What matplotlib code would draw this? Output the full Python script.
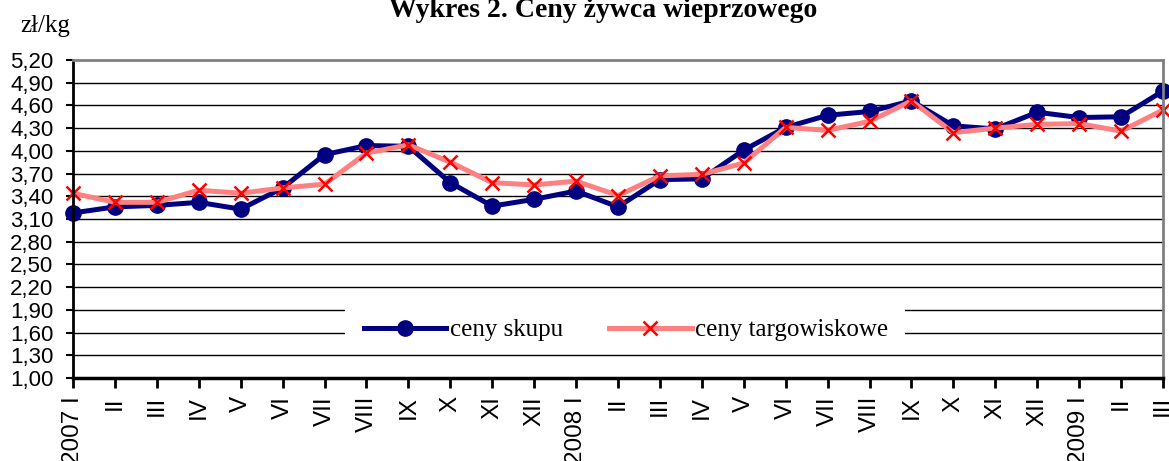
import numpy as np
import matplotlib
matplotlib.use('Agg')
from matplotlib import pyplot as plt
from matplotlib.patches import Rectangle

months = ['2007 I', 'II', 'III', 'IV', 'V', 'VI', 'VII', 'VIII', 'IX', 'X', 'XI', 'XII',
          '2008 I', 'II', 'III', 'IV', 'V', 'VI', 'VII', 'VIII', 'IX', 'X', 'XI', 'XII',
          '2009 I', 'II', 'III']
ceny_skupu = [3.18, 3.26, 3.28, 3.32, 3.23, 3.51, 3.95, 4.07, 4.06, 3.58, 3.27, 3.36,
              3.47, 3.26, 3.62, 3.63, 4.01, 4.31, 4.47, 4.52, 4.66, 4.33, 4.29, 4.51,
              4.44, 4.45, 4.79]
ceny_targ = [3.44, 3.32, 3.32, 3.48, 3.44, 3.51, 3.56, 3.97, 4.08, 3.85, 3.58, 3.55,
             3.60, 3.41, 3.67, 3.69, 3.84, 4.31, 4.27, 4.39, 4.66, 4.24, 4.30, 4.35,
             4.36, 4.26, 4.54]
yticks = np.arange(1.0, 5.21, 0.3)

fig = plt.figure(figsize=(11.69, 4.61), dpi=100)
ax = fig.add_axes([73/1169, 1 - 378/461, (1163 - 73)/1169, (378 - 60)/461])

x = np.arange(len(months))
ax.plot(x, ceny_skupu, color='#000080', lw=3.6, marker='o', ms=11,
        label='ceny skupu', zorder=3)
ax.plot(x, ceny_targ, color='#FF8080', lw=3.6, marker='x', ms=10, mec='#FF0000',
        mew=1.8, label='ceny targowiskowe', zorder=4)

ax.set_xlim(0, len(months) - 1)
ax.set_ylim(1.0, 5.2)
ax.set_yticks(yticks)
ax.set_yticklabels([('%.2f' % v).replace('.', ',') for v in yticks],
                   fontfamily='Liberation Sans', fontsize=16)
ax.set_xticks(x)
ax.set_xticklabels(months, rotation=90, fontfamily='Liberation Sans', fontsize=17.5)
ax.tick_params(axis='y', direction='out', length=5, width=1.5, pad=9)
ax.tick_params(axis='x', direction='out', length=7, width=2, pad=6)

for v in yticks[1:-1]:
    ax.axhline(v, color='black', lw=1, zorder=1)
ax.spines['top'].set_color('#808080')
ax.spines['top'].set_linewidth(2)
ax.spines['right'].set_color('#808080')
ax.spines['right'].set_linewidth(2)
ax.spines['left'].set_linewidth(2)
ax.spines['bottom'].set_linewidth(2.5)
for s in ax.spines.values():
    s.set_zorder(5)

# white legend area covering the gridlines behind it
ax.add_patch(Rectangle(((345 - 73)/1090, (378 - 346)/318), 560/1090, 48/318,
                       transform=ax.transAxes, facecolor='white', edgecolor='none',
                       zorder=2))
leg = ax.legend(loc='center', bbox_to_anchor=((626 - 73)/1090, (378 - 330)/318),
                ncol=2, frameon=False, handlelength=3.3, columnspacing=1.85,
                handletextpad=0.15, borderpad=0.3,
                prop={'family': 'Liberation Serif', 'size': 18})
leg.set_zorder(6)
for line in ax.lines:
    line.set_clip_on(False)

fig.text(603/1169, 1 - 17/461, 'Wykres 2. Ceny żywca wieprzowego', ha='center',
         va='baseline', fontfamily='Liberation Serif', fontweight='bold', fontsize=20)
fig.text(20/1169, 1 - 32/461, 'zł/kg', ha='left', va='baseline',
         fontfamily='Liberation Serif', fontsize=18)

fig.savefig('out.png', dpi=100)
